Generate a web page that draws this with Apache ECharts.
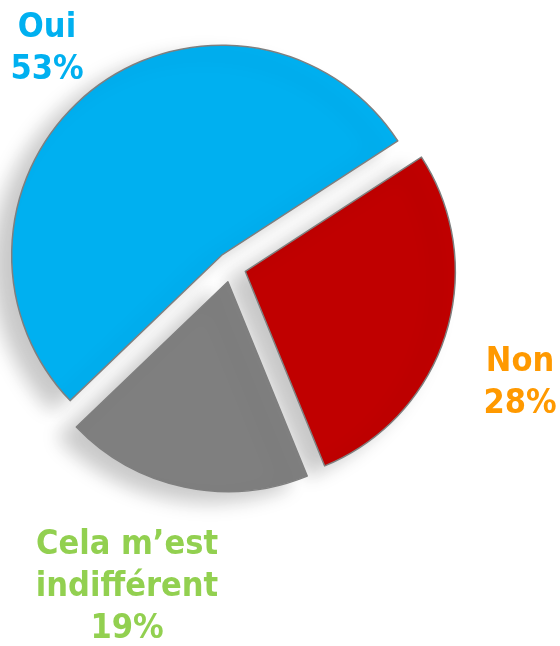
<!DOCTYPE html>
<html>
<head>
<meta charset="utf-8">
<script src="https://cdn.jsdelivr.net/npm/echarts@6/dist/echarts.min.js"></script>
<style>
html, body { margin: 0; padding: 0; background: #fff; }
#main { width: 560px; height: 646px; }
</style>
</head>
<body>
<div id="main"></div>
<script>
// ordre des parts : sens horaire a partir de la coupure haut-droite
var categories = ['Non', 'Cela m\u2019est\nindiff\u00e9rent', 'Oui'];
var values = [28, 19, 53];
var sliceColors = ['#C00000', '#7F7F7F', '#00B0F0'];
var labelColors = ['#FF9900', '#92D050', '#00B0F0'];

// position des etiquettes (centre du bloc de texte)
var labelPos = [
	[520, 383],
	[127, 587],
	[47, 49]
];

var myChart = echarts.init(document.getElementById('main'));

var pieData = [];
var labels = [];
for (var i = 0; i < categories.length; i++) {
	pieData.push({
		name : categories[i],
		value : values[i],
		selected : true,
		itemStyle : { color : sliceColors[i] }
	});
	labels.push({
		type : 'text',
		x : labelPos[i][0],
		y : labelPos[i][1],
		silent : true,
		style : {
			text : categories[i] + '\n' + values[i] + '%',
			fill : labelColors[i],
			font : 'bold 34px "DejaVu Sans Condensed"',
			lineHeight : 42,
			align : 'center',
			verticalAlign : 'middle'
		}
	});
}

var option = {
	animation : false,
	graphic : labels,
	series : [ {
		type : 'pie',
		center : [ 231, 267 ],
		radius : 210,
		startAngle : 33,
		clockwise : true,
		selectedMode : 'multiple',
		selectedOffset : 15,
		silent : true,
		itemStyle : {
			borderColor : '#7F7F7F',
			borderWidth : 1.5,
			shadowColor : 'rgba(0,0,0,0.22)',
			shadowBlur : 20,
			shadowOffsetX : -18,
			shadowOffsetY : 10
		},
		label : { show : false },
		labelLine : { show : false },
		emphasis : { disabled : true },
		data : pieData
	} ]
};

myChart.setOption(option);
</script>
</body>
</html>
